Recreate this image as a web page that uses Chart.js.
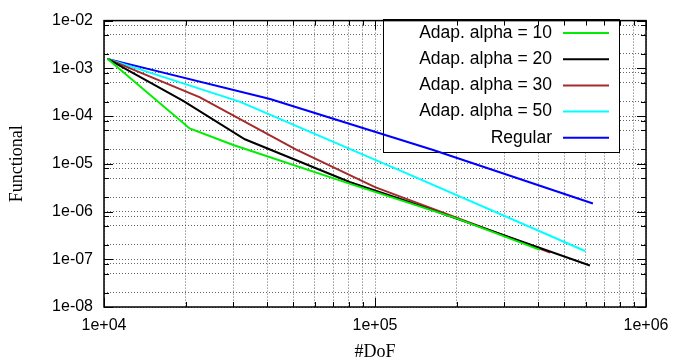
<!DOCTYPE html>
<html>
<head>
<meta charset="utf-8">
<script src="https://cdn.jsdelivr.net/npm/chart.js@4.4.1/dist/chart.umd.min.js"></script>
<style>
  html, body { margin: 0; padding: 0; background: #fff; }
  #wrap { width: 679px; height: 363px; }
</style>
</head>
<body>
<div id="wrap"><canvas id="myChart"></canvas></div>
<script>
// #DoF / functional values
const dofA10 = [10300, 20700, 30000, 81000, 200000, 406000];
const funA10 = [1.58e-3, 5.5e-5, 2.47e-5, 3.8e-6, 7.2e-7, 1.57e-7];

const dofA20 = [10300, 19600, 33100, 81000, 124000, 621000];
const funA20 = [1.58e-3, 2.07e-4, 3.27e-5, 4.1e-6, 1.84e-6, 7.4e-8];

const dofA30 = [10300, 22600, 51000, 100000, 443000];
const funA30 = [1.58e-3, 2.47e-4, 2.0e-5, 3.24e-6, 1.38e-7];

const dofA50 = [10300, 31800, 124000, 596000];
const funA50 = [1.58e-3, 1.98e-4, 7.2e-6, 1.49e-7];

const dofReg = [10300, 41000, 164000, 637000];
const funReg = [1.58e-3, 2.28e-4, 1.95e-5, 1.47e-6];

const seriesLabels = ['Adap. alpha = 10', 'Adap. alpha = 20', 'Adap. alpha = 30', 'Adap. alpha = 50', 'Regular'];
const seriesColors = ['#00ee00', '#000000', '#a52a2a', '#00ffff', '#0000ff'];

const xTickLabels = ['1e+04', '1e+05', '1e+06'];
const yTickLabels = ['1e-08', '1e-07', '1e-06', '1e-05', '1e-04', '1e-03', '1e-02'];

const xs = [dofA10, dofA20, dofA30, dofA50, dofReg];
const ys = [funA10, funA20, funA30, funA50, funReg];

const datasets = seriesLabels.map((label, i) => ({
    label: label,
    data: xs[i].map((x, k) => ({x: x, y: ys[i][k]})),
    borderColor: seriesColors[i],
    backgroundColor: seriesColors[i],
    borderWidth: 2,
    pointRadius: 0,
    tension: 0,
    fill: false,
}));

const sans = "'Liberation Sans', Arial, sans-serif";
const serif = "'Liberation Serif', 'Times New Roman', serif";

function exponent(v) {
    return Math.round(Math.log10(v));
}
function isDecade(v) {
    return Math.abs(Math.log10(v) - exponent(v)) < 1e-9;
}

// legend box sits over the grid but under the curves
const box = {x: 383, y: 19, w: 236, h: 133};

const framePlugin = {
    id: 'frame',
    beforeDatasetsDraw(chart) {
        const {ctx} = chart;
        ctx.save();
        ctx.fillStyle = '#fff';
        ctx.fillRect(box.x, box.y, box.w, box.h);
        ctx.strokeStyle = '#000';
        ctx.lineWidth = 1;
        ctx.strokeRect(box.x + 0.5, box.y + 0.5, box.w, box.h);
        ctx.restore();
    },
    afterDraw(chart) {
        const {ctx, chartArea: a, scales} = chart;
        ctx.save();
        ctx.strokeStyle = '#000';
        ctx.lineWidth = 1;
        scales.x.ticks.forEach(t => {
            const px = Math.round(scales.x.getPixelForValue(t.value)) + 0.5;
            const len = isDecade(t.value) ? 9 : 5;
            ctx.beginPath();
            ctx.moveTo(px, a.bottom); ctx.lineTo(px, a.bottom - len);
            ctx.moveTo(px, a.top); ctx.lineTo(px, a.top + len);
            ctx.stroke();
        });
        scales.y.ticks.forEach(t => {
            const py = Math.round(scales.y.getPixelForValue(t.value)) + 0.5;
            const len = isDecade(t.value) ? 9 : 5;
            ctx.beginPath();
            ctx.moveTo(a.left, py); ctx.lineTo(a.left + len, py);
            ctx.moveTo(a.right, py); ctx.lineTo(a.right - len, py);
            ctx.stroke();
        });
        ctx.lineWidth = 1.5;
        ctx.strokeRect(a.left, a.top, a.right - a.left, a.bottom - a.top);

        // legend entries
        ctx.font = '17.5px ' + sans;
        ctx.textAlign = 'right';
        ctx.textBaseline = 'middle';
        chart.data.datasets.forEach((ds, i) => {
            const y = 33 + i * 26.2;
            ctx.fillStyle = '#000';
            ctx.fillText(ds.label, 552, y);
            ctx.strokeStyle = ds.borderColor;
            ctx.lineWidth = 2;
            ctx.beginPath();
            ctx.moveTo(563, y); ctx.lineTo(609, y);
            ctx.stroke();
        });
        ctx.restore();
    }
};

const gridOpts = {
    color: 'rgba(0,0,0,0.6)',
    lineWidth: 1,
    drawTicks: false,
};

const ctx = document.getElementById('myChart');
const myChart = new Chart(ctx, {
    type: 'line',
    data: { datasets: datasets },
    options: {
        responsive: true,
        maintainAspectRatio: false,
        animation: false,
        layout: { padding: { top: 15, right: 33, left: 0, bottom: 0 } },
        plugins: {
            legend: { display: false },
            tooltip: { enabled: false },
        },
        scales: {
            x: {
                type: 'logarithmic',
                min: 1e4,
                max: 1e6,
                grid: gridOpts,
                border: { display: false, dash: [1, 2] },
                afterBuildTicks(scale) {
                    const t = [];
                    for (let e = 4; e <= 6; e++) {
                        for (let m = 1; m <= 9; m++) {
                            const v = m * Math.pow(10, e);
                            if (v <= 1e6) t.push({value: v});
                        }
                    }
                    scale.ticks = t;
                },
                afterFit(scale) { scale.height = 56; },
                ticks: {
                    autoSkip: false,
                    maxRotation: 0,
                    padding: 9,
                    color: '#000',
                    font: { family: sans, size: 16 },
                    callback: (v) => isDecade(v) ? xTickLabels[exponent(v) - 4] : '',
                },
                title: {
                    display: true,
                    text: '#DoF',
                    color: '#000',
                    font: { family: serif, size: 18 },
                    padding: { top: 0, bottom: 0 },
                },
            },
            y: {
                type: 'logarithmic',
                min: 1e-8,
                max: 1e-2,
                grid: gridOpts,
                border: { display: false, dash: [1, 2] },
                afterBuildTicks(scale) {
                    const t = [];
                    for (let e = -8; e <= -2; e++) {
                        [1, 2, 5, 8].forEach(m => {
                            const v = m * Math.pow(10, e);
                            if (v <= 1.0001e-2) t.push({value: v});
                        });
                    }
                    scale.ticks = t;
                },
                afterFit(scale) { scale.width = 104; },
                ticks: {
                    autoSkip: false,
                    padding: 11,
                    color: '#000',
                    font: { family: sans, size: 16 },
                    callback: (v) => isDecade(v) ? yTickLabels[exponent(v) + 8] : '',
                },
                title: {
                    display: true,
                    text: 'Functional',
                    color: '#000',
                    font: { family: serif, size: 18 },
                    padding: { top: 6, bottom: 0 },
                },
            },
        },
    },
    plugins: [framePlugin],
});
</script>
</body>
</html>
